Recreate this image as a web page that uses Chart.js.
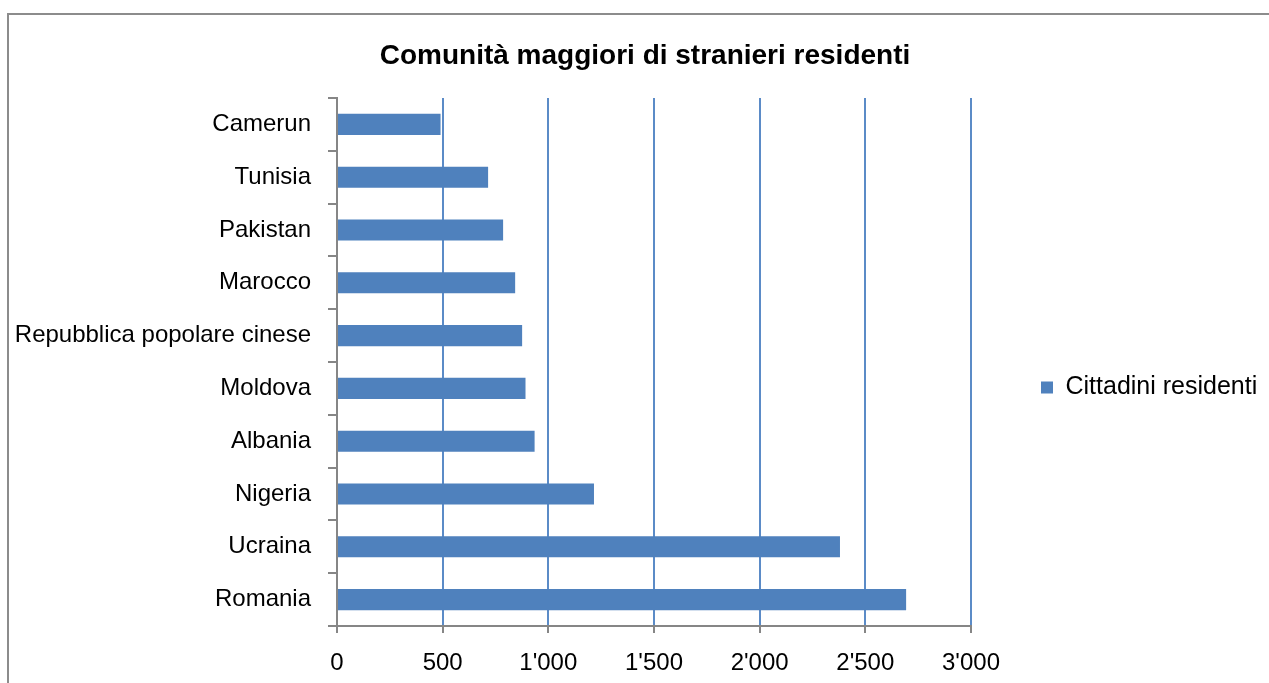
<!DOCTYPE html>
<html>
<head>
<meta charset="utf-8">
<script src="https://cdn.jsdelivr.net/npm/chart.js@4"></script>
<style>
  html, body { margin: 0; padding: 0; background: #fff; overflow: hidden; }
  #frame {
    position: absolute; left: 7px; top: 13px;
    width: 1272px; height: 680px;
    border-top: 2px solid #8c8c8c; border-left: 2px solid #8c8c8c;
  }
</style>
</head>
<body>
<div id="frame"><canvas id="grafico" width="1272" height="670"></canvas></div>
<script>
// dati
const paesi = ["Camerun", "Tunisia", "Pakistan", "Marocco", "Repubblica popolare cinese",
               "Moldova", "Albania", "Nigeria", "Ucraina", "Romania"];
const residenti = [490, 715, 786, 843, 876, 892, 935, 1216, 2380, 2693];
const tickValori = [0, 500, 1000, 1500, 2000, 2500, 3000];

const blu = "#4F81BD";
const grigio = "#868686";
const font = "'Liberation Sans', Arial, sans-serif";

function migliaia(v) {
  return String(v).replace(/\B(?=(\d{3})+(?!\d))/g, "'");
}

// la legenda occupa tutta la colonna a destra del grafico (come in Excel)
const legendaLarga = {
  id: "legendaLarga",
  afterInit(chart) {
    const lg = chart.legend;
    const fit = lg.fit;
    lg.fit = function () {
      fit.call(this);
      if (!this.isHorizontal()) this.width = 310;
    };
  }
};

const config = {
  type: "bar",
  data: {
    labels: paesi,
    datasets: [{
      label: "Cittadini residenti",
      data: residenti,
      backgroundColor: blu,
      borderWidth: 0,
      categoryPercentage: 1,
      barPercentage: 0.4
    }]
  },
  options: {
    indexAxis: "y",
    responsive: false,
    animation: false,
    layout: { padding: { left: 0, right: 0, top: 0, bottom: 1 } },
    plugins: {
      title: {
        display: true,
        text: "Comunità maggiori di stranieri residenti",
        color: "#000",
        font: { family: font, size: 28, weight: "bold" },
        padding: { top: 24, bottom: 25.4 }
      },
      legend: {
        position: "right",
        // titolo vuoto: serve solo ad abbassare la voce come nell'originale
        title: { display: true, text: "", font: { size: 24 }, padding: 23.6 },
        labels: {
          color: "#000",
          font: { family: font, size: 25 },
          boxWidth: 12,
          boxHeight: 12,
          padding: 70
        }
      },
      tooltip: { enabled: false }
    },
    scales: {
      x: {
        min: 0,
        max: 3000,
        afterBuildTicks: s => { s.ticks = tickValori.map(v => ({ value: v })); },
        afterFit: s => { s.height = 58; },
        ticks: {
          color: "#000",
          font: { family: font, size: 24 },
          padding: 16,
          callback: v => migliaia(v)
        },
        grid: {
          color: c => (c.tick && c.tick.value === 0) ? "rgba(0,0,0,0)" : "#5B8BC7",
          lineWidth: 2,
          tickLength: 7,
          tickColor: grigio
        },
        border: { color: grigio, width: 2 }
      },
      y: {
        afterFit: s => { s.width = 328; },
        ticks: {
          color: "#000",
          font: { family: font, size: 24 },
          padding: 17
        },
        grid: {
          offset: true,
          drawOnChartArea: false,
          tickLength: 9,
          tickColor: grigio,
          lineWidth: 2
        },
        border: { color: grigio, width: 2 }
      }
    }
  },
  plugins: [legendaLarga]
};

new Chart(document.getElementById("grafico"), config);
</script>
</body>
</html>
